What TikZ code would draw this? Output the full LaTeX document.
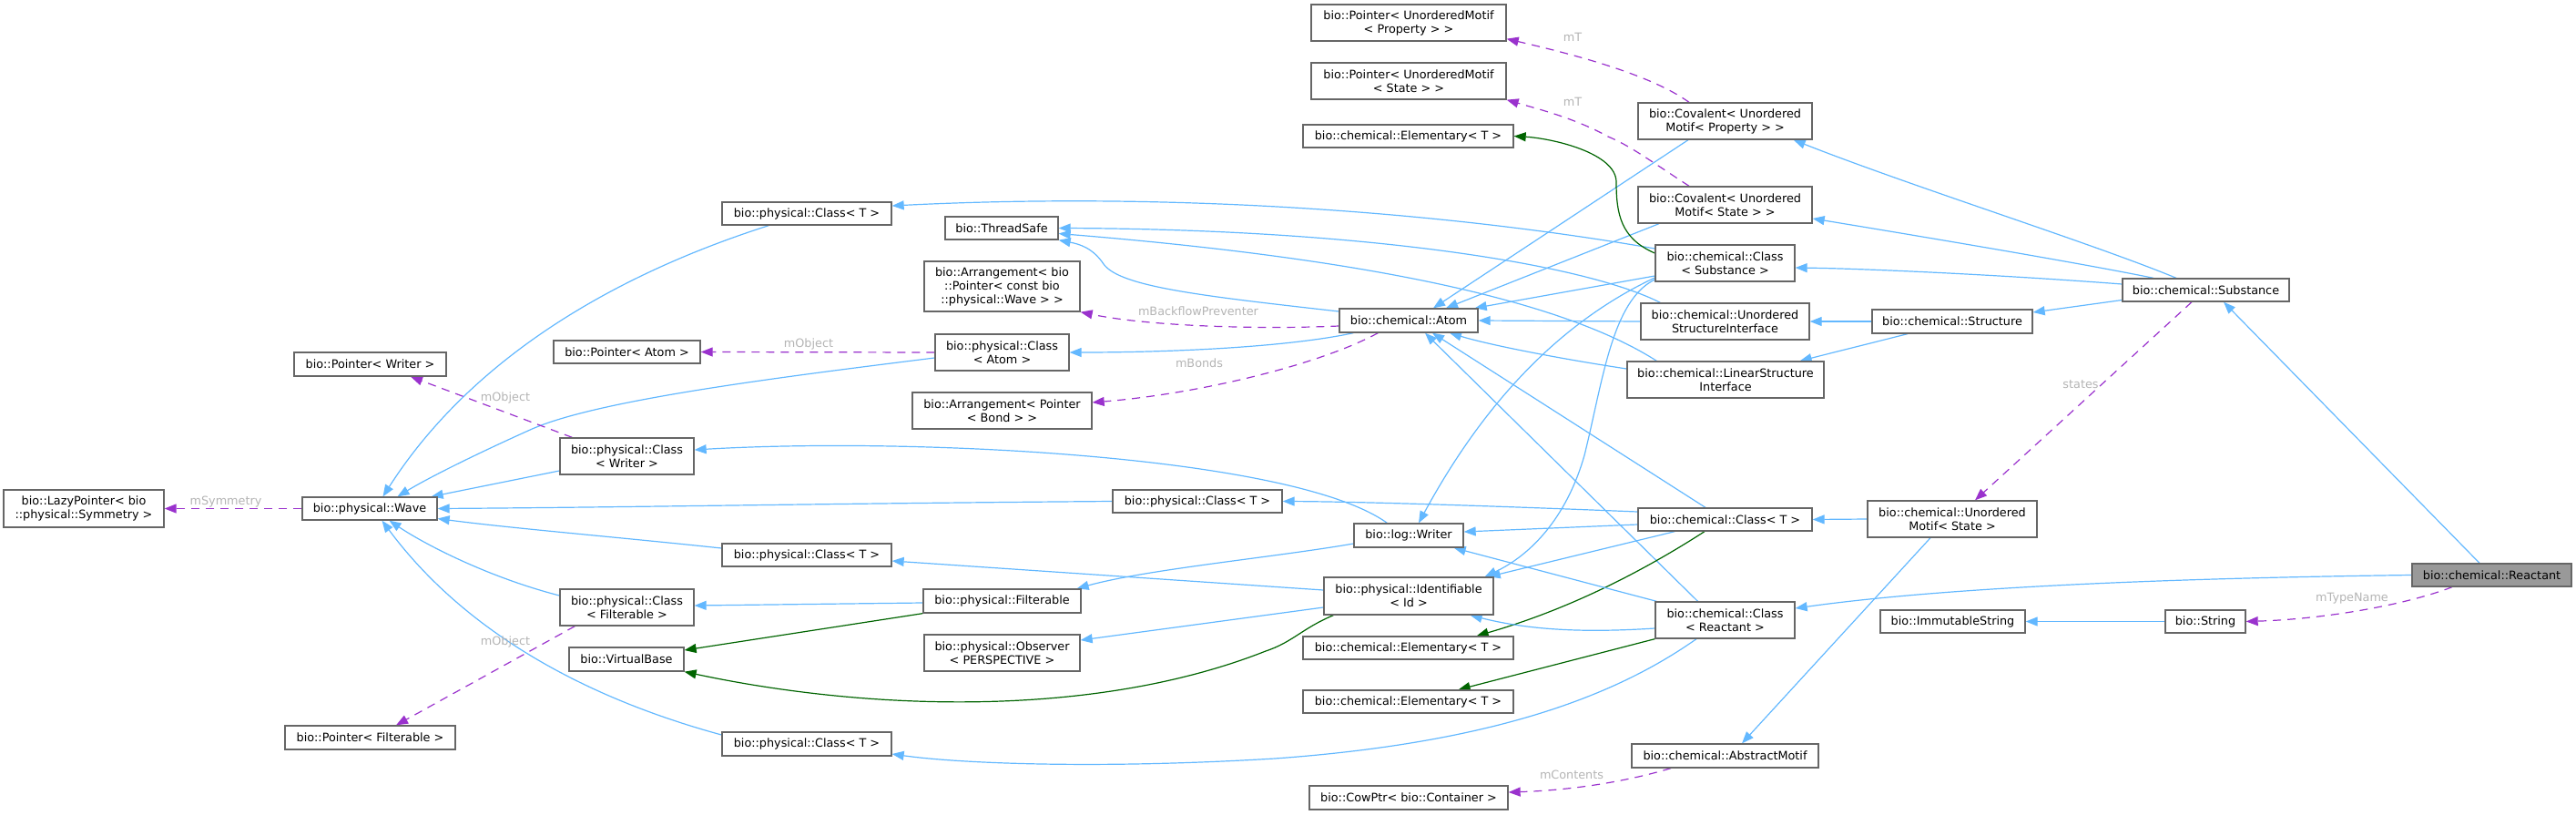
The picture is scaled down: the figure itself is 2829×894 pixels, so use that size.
\documentclass[tikz,border=0pt]{standalone}
\usepackage{fontspec}
\setmainfont{DejaVu Sans}
\usetikzlibrary{arrows.meta}
\definecolor{eblue}{HTML}{63B8FF}
\definecolor{epurple}{HTML}{9A32CD}
\definecolor{egreen}{HTML}{006400}
\definecolor{nborder}{HTML}{666666}
\definecolor{lgray}{HTML}{B4B4B4}
\definecolor{nfill}{HTML}{999999}
\pgfdeclarelayer{bg}
\pgfsetlayers{bg,main}
\begin{document}
\begin{tikzpicture}[x=1pt,y=-1pt,
  box/.style={draw=nborder,fill=white,line width=1.3pt,inner sep=0pt,align=center,font=\fontsize{12.8}{15}\selectfont},
  pub/.style={draw=eblue,line width=1.2pt,-{Triangle[length=13pt,width=10pt]}},
  usage/.style={draw=epurple,line width=1.2pt,dash pattern=on 9pt off 7pt,-{Triangle[length=13pt,width=10pt]}},
  tmpl/.style={draw=egreen,line width=1.2pt,-{Triangle[length=13pt,width=10pt]}},
  lbl/.style={text=lgray,inner sep=0pt,font=\fontsize{12.8}{15}\selectfont}]
\useasboundingbox (0,0) rectangle (2829,894);
% nodes
\node[box,minimum width=176pt,minimum height=41pt] (lazy) at (92,558.5) {bio::LazyPointer< bio\\::physical::Symmetry >};
\node[box,minimum width=148pt,minimum height=25pt] (wave) at (406,558.5) {bio::physical::Wave};
\node[box,minimum width=167pt,minimum height=26pt] (ptrWriter) at (406.5,400) {bio::Pointer< Writer >};
\node[box,minimum width=147pt,minimum height=40pt] (clsWriter) at (688.5,501) {bio::physical::Class\\< Writer >};
\node[box,minimum width=147pt,minimum height=40pt] (clsFilt) at (688.5,667) {bio::physical::Class\\< Filterable >};
\node[box,minimum width=126pt,minimum height=26pt] (vbase) at (688,724) {bio::VirtualBase};
\node[box,minimum width=187pt,minimum height=26pt] (ptrFilt) at (406.5,810) {bio::Pointer< Filterable >};
\node[box,minimum width=161pt,minimum height=25pt] (ptrAtom) at (688.5,386.5) {bio::Pointer< Atom >};
\node[box,minimum width=186pt,minimum height=25pt] (clsT1) at (886,234.5) {bio::physical::Class< T >};
\node[box,minimum width=147pt,minimum height=40pt] (clsAtom) at (1100.5,387) {bio::physical::Class\\< Atom >};
\node[box,minimum width=124pt,minimum height=25pt] (threadsafe) at (1100,250.5) {bio::ThreadSafe};
\node[box,minimum width=171pt,minimum height=55pt] (arrWave) at (1100.5,314.5) {bio::Arrangement< bio\\::Pointer< const bio\\::physical::Wave > >};
\node[box,minimum width=197pt,minimum height=40pt] (arrBond) at (1100.5,451) {bio::Arrangement< Pointer\\< Bond > >};
\node[box,minimum width=186pt,minimum height=25pt] (clsT2) at (1315,550.5) {bio::physical::Class< T >};
\node[box,minimum width=186pt,minimum height=25pt] (clsT3) at (886,609.5) {bio::physical::Class< T >};
\node[box,minimum width=173pt,minimum height=26pt] (filterable) at (1100.5,660) {bio::physical::Filterable};
\node[box,minimum width=171pt,minimum height=40pt] (observer) at (1100.5,717) {bio::physical::Observer\\< PERSPECTIVE >};
\node[box,minimum width=186pt,minimum height=26pt] (clsT4) at (886,817) {bio::physical::Class< T >};
\node[box,minimum width=214pt,minimum height=40pt] (ptrProp) at (1547,25) {bio::Pointer< UnorderedMotif\\< Property > >};
\node[box,minimum width=214pt,minimum height=40pt] (ptrState) at (1547,89) {bio::Pointer< UnorderedMotif\\< State > >};
\node[box,minimum width=231pt,minimum height=25pt] (elem1) at (1546.5,149.5) {bio::chemical::Elementary< T >};
\node[box,minimum width=152pt,minimum height=26pt] (atom) at (1547,352) {bio::chemical::Atom};
\node[box,minimum width=120pt,minimum height=26pt] (writer) at (1547,588) {bio::log::Writer};
\node[box,minimum width=186pt,minimum height=41pt] (ident) at (1547,654.5) {bio::physical::Identifiable\\< Id >};
\node[box,minimum width=231pt,minimum height=25pt] (elem2) at (1546.5,711.5) {bio::chemical::Elementary< T >};
\node[box,minimum width=231pt,minimum height=25pt] (elem3) at (1546.5,770.5) {bio::chemical::Elementary< T >};
\node[box,minimum width=218pt,minimum height=26pt] (cow) at (1547,876) {bio::CowPtr< bio::Container >};
\node[box,minimum width=191pt,minimum height=40pt] (covProp) at (1894.5,133) {bio::Covalent< Unordered\\Motif< Property > >};
\node[box,minimum width=191pt,minimum height=40pt] (covState) at (1894.5,225) {bio::Covalent< Unordered\\Motif< State > >};
\node[box,minimum width=153pt,minimum height=40pt] (clsSub) at (1894.5,289) {bio::chemical::Class\\< Substance >};
\node[box,minimum width=185pt,minimum height=40pt] (usi) at (1894.5,353) {bio::chemical::Unordered\\StructureInterface};
\node[box,minimum width=216pt,minimum height=40pt] (lsi) at (1895,417) {bio::chemical::LinearStructure\\Interface};
\node[box,minimum width=191pt,minimum height=25pt] (chemClsT) at (1894.5,570.5) {bio::chemical::Class< T >};
\node[box,minimum width=153pt,minimum height=40pt] (clsReact) at (1894.5,681) {bio::chemical::Class\\< Reactant >};
\node[box,minimum width=205pt,minimum height=26pt] (absMotif) at (1894.5,830) {bio::chemical::AbstractMotif};
\node[box,minimum width=183pt,minimum height=25pt] (substance) at (2422.5,318.5) {bio::chemical::Substance};
\node[box,minimum width=176pt,minimum height=26pt] (structure) at (2144,353) {bio::chemical::Structure};
\node[box,minimum width=186pt,minimum height=40pt] (umState) at (2144,570) {bio::chemical::Unordered\\Motif< State >};
\node[box,fill=nfill,minimum width=175pt,minimum height=25pt] (reactant) at (2736.5,631.5) {bio::chemical::Reactant};
\node[box,minimum width=159pt,minimum height=25pt] (immutable) at (2144.5,682.5) {bio::ImmutableString};
\node[box,minimum width=88pt,minimum height=25pt] (string) at (2422,682.5) {bio::String};
% labels
\node[lbl] (l1) at (248,551) {mSymmetry};
\node[lbl] (l2) at (555,437) {mObject};
\node[lbl] (l3) at (555,705) {mObject};
\node[lbl] (l4) at (888,378) {mObject};
\node[lbl] (l5) at (1316,342) {mBackflowPreventer};
\node[lbl] (l6) at (1317,399) {mBonds};
\node[lbl] (l7) at (1727,41) {mT};
\node[lbl] (l8) at (1727,112) {mT};
\node[lbl] (l9) at (1726,851) {mContents};
\node[lbl] (l10) at (2285,422) {states};
\node[lbl] (l11) at (2583,657) {mTypeName};
\begin{pgfonlayer}{bg}
% right part
\draw[pub] ([xshift=-13.5pt]reactant.north) -- ([xshift=19.5pt]substance.south);
\draw[pub] (reactant.west) .. controls (2300,636) and (2100,650) .. ([yshift=13pt]clsReact.east);
\draw[pub] ([xshift=-32.5pt]substance.north) .. controls (2300,268) and (2100,205) .. ([xshift=-21pt]covProp.south east);
\draw[pub] ([xshift=-57.5pt]substance.north) .. controls (2280,288) and (2100,258) .. ([yshift=-15pt]covState.east);
\draw[pub] ([yshift=6.5pt]substance.west) .. controls (2200,302) and (2050,295) .. ([yshift=-5pt]clsSub.east);
\draw[pub] ([yshift=-11pt]substance.west) -- ([yshift=10pt]structure.east);
\draw[pub] (structure.west) -- (usi.east);
\draw[pub] ([xshift=-49pt]structure.south) -- ([xshift=-27pt]lsi.north east);
\draw[pub] (umState.west) -- (chemClsT.east);
\draw[pub] ([xshift=-24pt]umState.south) -- ([xshift=18.5pt]absMotif.north);
\draw[pub] (string.west) -- (immutable.east);
\draw[usage] ([xshift=-15.5pt]substance.south) -- ([xshift=25pt]umState.north);
\draw[usage] ([xshift=-43.5pt]reactant.south) .. controls (2640,665) and (2550,680) .. (string.east);
% into atom
\draw[pub] ([xshift=-40.5pt]covProp.south) -- ([xshift=27pt]atom.north);
\draw[pub] ([xshift=-72.5pt]covState.south) -- ([xshift=41pt]atom.north);
\draw[pub] ([yshift=-14pt]clsSub.west) -- ([xshift=-4pt]atom.north east);
\draw[pub] (usi.west) -- (atom.east);
\draw[pub] ([yshift=12pt]lsi.west) .. controls (1720,395) and (1640,380) .. ([xshift=45pt]atom.south);
\draw[pub] ([xshift=-30pt]clsReact.north) -- ([xshift=18pt]atom.south);
\draw[pub] ([xshift=-21.5pt]chemClsT.north) -- ([xshift=26pt]atom.south);
% threadsafe
\draw[pub] ([yshift=10pt]atom.west) .. controls (1320,325) and (1230,315) .. (1212,290) .. controls (1200,272) and (1185,268) .. (threadsafe.south east);
\draw[pub] ([xshift=22pt]usi.north west) .. controls (1740,290) and (1500,252) .. (threadsafe.east);
\draw[pub] ([xshift=33pt]lsi.north west) .. controls (1700,320) and (1450,280) .. ([yshift=-6pt]threadsafe.east);
% class substance
\draw[pub] ([yshift=16pt]clsSub.west) .. controls (1600,235) and (1300,210) .. ([yshift=8.5pt]clsT1.east);
\draw[tmpl] ([yshift=11pt]clsSub.west) .. controls (1780,262) and (1775,235) .. (1775,200) .. controls (1775,168) and (1705,152) .. (elem1.east);
\draw[pub] ([yshift=-16pt]clsSub.west) .. controls (1700,360) and (1620,460) .. ([xshift=11pt]writer.north);
\draw[pub] ([yshift=-18pt]clsSub.west) .. controls (1770,330) and (1760,420) .. (1740,500) .. controls (1720,570) and (1680,610) .. ([xshift=-10pt]ident.north east);
% chemical class T
\draw[pub] ([yshift=8.5pt]chemClsT.west) .. controls (1650,556) and (1500,551) .. (clsT2.east);
\draw[pub] ([yshift=-5.5pt]chemClsT.west) -- ([yshift=4pt]writer.east);
\draw[pub] ([xshift=41pt]chemClsT.south west) -- ([xshift=-6pt]ident.north east);
\draw[tmpl] ([xshift=-22.5pt]chemClsT.south) .. controls (1800,630) and (1720,670) .. ([xshift=-41pt]elem2.north east);
% class reactant
\draw[pub] ([xshift=2pt]clsReact.north west) -- ([xshift=-11pt]writer.south east);
\draw[pub] ([yshift=-9pt]clsReact.west) .. controls (1740,695) and (1680,692) .. ([xshift=-26pt]ident.south east);
\draw[tmpl] (clsReact.south west) -- ([xshift=-61pt]elem3.north east);
\draw[pub] ([xshift=-31.5pt]clsReact.south) .. controls (1780,760) and (1650,815) .. (1400,833) .. controls (1200,845) and (1050,838) .. ([yshift=-11pt]clsT4.east);
\draw[usage] ([xshift=-59.5pt]absMotif.south) .. controls (1780,860) and (1720,868) .. ([yshift=6pt]cow.east);
% covalent
\draw[usage] ([xshift=-39.5pt]covProp.north) .. controls (1810,80) and (1720,58) .. ([yshift=3pt]ptrProp.south east);
\draw[usage] ([xshift=-39.5pt]covState.north) .. controls (1810,175) and (1790,160) .. (1766,150) .. controls (1730,130) and (1690,120) .. (ptrState.south east);
% atom outgoing
\draw[usage] ([yshift=-6pt]atom.west) .. controls (1380,362) and (1260,358) .. (arrWave.south east);
\draw[usage] ([xshift=43pt]atom.south west) .. controls (1450,400) and (1320,432) .. ([yshift=9pt]arrBond.east);
\draw[pub] ([xshift=16pt]atom.south west) .. controls (1420,380) and (1300,387) .. (clsAtom.east);
\draw[usage] (clsAtom.west) -- (ptrAtom.east);
% into wave
\draw[pub] ([yshift=-6pt]clsAtom.west) .. controls (850,415) and (650,440) .. (580,473) .. controls (520,500) and (470,525) .. ([xshift=30.5pt]wave.north);
\draw[pub] ([xshift=52pt]clsT1.south west) .. controls (680,300) and (520,390) .. ([xshift=14.5pt]wave.north);
\draw[pub] ([yshift=-16pt]clsWriter.west) -- ([xshift=-7pt]wave.north east);
\draw[pub] (clsT2.west) .. controls (900,553) and (700,557) .. (wave.east);
\draw[pub] ([yshift=7.5pt]clsT3.west) .. controls (680,590) and (560,580) .. ([yshift=-11pt]wave.east);
\draw[pub] ([yshift=13pt]clsFilt.west) .. controls (540,635) and (470,600) .. ([xshift=21.5pt]wave.south);
\draw[pub] ([yshift=10pt]clsT4.west) .. controls (620,760) and (500,680) .. ([xshift=13.5pt]wave.south);
\draw[usage] ([xshift=14pt]clsWriter.north west) -- ([xshift=44.5pt]ptrWriter.south);
\draw[usage] ([xshift=17pt]clsFilt.south west) -- ([xshift=28.5pt]ptrFilt.north);
\draw[usage] (wave.west) -- (lazy.east);
% writer, identifiable, filterable
\draw[pub] ([xshift=37pt]writer.north west) .. controls (1420,500) and (1000,480) .. ([yshift=7pt]clsWriter.east);
\draw[pub] ([yshift=-9pt]writer.west) .. controls (1400,612) and (1260,625) .. ([xshift=-5pt]filterable.north east);
\draw[pub] ([yshift=6.5pt]ident.west) -- ([yshift=-6.5pt]clsT3.east);
\draw[pub] ([yshift=-12.5pt]ident.west) -- ([yshift=14pt]observer.east);
\draw[tmpl] ([xshift=11pt]ident.south west) .. controls (1430,690) and (1420,705) .. (1390,715) .. controls (1200,790) and (950,780) .. (vbase.south east);
\draw[tmpl] (filterable.south west) -- ([yshift=10pt]vbase.east);
\draw[pub] ([yshift=-2pt]filterable.west) -- ([yshift=2pt]clsFilt.east);
\end{pgfonlayer}
\end{tikzpicture}
\end{document}
